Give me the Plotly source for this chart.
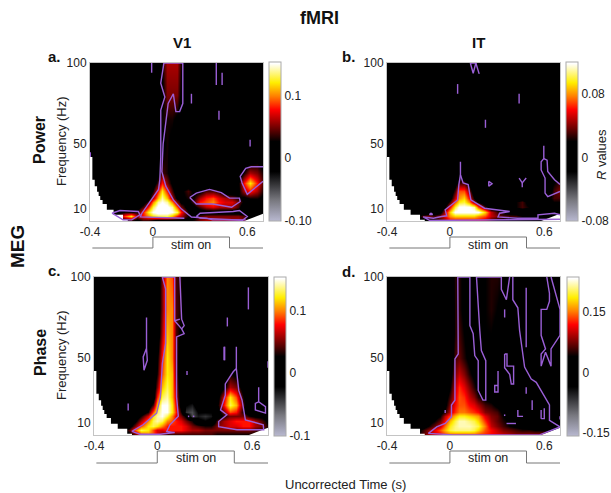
import numpy as np
import plotly.graph_objects as go

W, H = 611, 493
FONT = "Liberation Sans"
INK = "#222222"
PURPLE = "#9a5fd6"

TIMES = [-.40,-.32,-.26,-.22,-.18,-.14,-.10,-.06,-.03,0,.03,.06,.09,.12,.15,.18,.22,.26,.30,.34,.38,.42,.46,.50,.54,.58,.62,.66,.70]
FREQS = [100,80,65,50,40,32,26,21,17,14,11,8,5.5,3]

# R values x 100; rows run from 100 Hz down to 3 Hz
POWER_V1 = [
 [0,0,0,0,0,0,0,0,0,0,0,3,6,6,6,3,1,0,0,0,0,0,0,0,0,0,0,0,0],
 [0,0,0,0,0,0,0,0,0,0,0,2,5,5,5,2,0,0,0,0,0,0,0,0,0,0,0,0,0],
 [0,0,0,0,0,0,0,0,0,0,0,3,3,3,2,1,0,0,0,0,0,0,0,0,0,0,0,0,0],
 [0,0,0,0,0,0,0,0,0,0,1,2,3,2,1,0,0,0,0,0,0,0,0,0,0,0,0,0,0],
 [0,0,0,0,0,0,0,0,0,0,2,3,3,1,0,0,0,0,0,0,0,0,0,0,0,0,1,2,1],
 [0,0,0,0,0,0,0,0,0,0,2,4,3,1,0,0,0,0,0,0,0,0,0,0,0,3,6,5,3],
 [0,0,0,0,0,0,0,0,0,1,4,8,5,2,0,0,0,0,0,0,0,0,0,0,2,8,12,8,4],
 [0,0,0,0,0,0,0,0,0,3,8,12,8,4,0,2,4,2,2,4,4,3,0,0,2,6,8,6,3],
 [0,0,0,0,0,0,0,0,1,6,11,14,11,6,2,2,3,3,6,8,9,7,6,5,3,2,3,3,2],
 [0,0,0,0,0,0,0,1,4,10,14,15,14,10,5,2,2,4,8,9,10,8,7,7,5,2,0,0,0],
 [0,0,0,0,0,0,1,4,8,13,15.5,16,15.5,14,9,5,1,2,4,6,7,6,6,6,4,0,0,0,0],
 [0,0,0,1,3,3,3,8,12,15,16,16,16,15,13,8,3,0,1,1,1,1,1,1,1,0,0,0,0],
 [0,0,0,4,9,12,6,8,10,12,13,13,13,11,8,6,3,2,4,5,5,5,5,5,5,4,1,0,0],
 [0,0,0,1,3,4,2,4,4,3,2,2,2,2,2,2,2,3,5,6,6,6,6,6,6,5,0,0,0],
]
POWER_IT = [
 [0,0,0,0,0,0,0,0,0,0,0,0,0,1,2,1,0,0,0,0,0,0,0,0,0,0,0,0,0],
 [0,0,0,0,0,0,0,0,0,0,0,0,0,0,0,0,0,0,0,0,0,0,0,0,0,0,0,0,0],
 [0,0,0,0,0,0,0,0,0,0,0,0,0,0,0,0,0,0,0,0,0,0,0,0,0,0,0,0,0],
 [0,0,0,0,0,0,0,0,0,0,0,0,0,0,0,0,0,0,0,0,0,0,0,0,0,0,0,0,0],
 [0,0,0,0,0,0,0,0,0,0,0,0,0,0,0,0,0,0,0,0,0,0,0,0,0,0,0,0,0],
 [0,0,0,0,0,0,0,0,0,0,1,1,0,0,0,0,0,0,0,0,0,0,0,0,0,0,0,0,0],
 [0,0,0,0,0,0,0,0,0,0,1,3,3,1,0,0,0,0,0,0,0,0,0,0,0,0,1,2,3],
 [0,0,0,0,0,0,0,0,0,0,3,7,7,4,0,0,0,0,0,0,0,0,0,0,0,0,0,3,4],
 [0,0,0,0,0,0,0,0,0,1,5,8,9,6,2,0,0,0,0,0,0,0,1,0,0,0,1,3,3],
 [0,0,0,0,0,0,0,0,0,3,7,9.5,10,8,4,2,0,0,0,0,0,2,3,1,0,0,1,2,2],
 [0,0,0,0,0,0,0,0,2,6,10,12,12,12,11,7,3,0,0,0,0,2,3,2,1,0,0,0,0],
 [0,0,0,0,0,0,0,1,5,9,12,12,12,12,12,12,9,5,3,2,1,0,0,0,0,0,0,0,0],
 [0,0,0,0,3,4,3,4,6,8,9,9,9,9,9,8,7,5,4,3,3,3,2,0,0,0,0,0,0],
 [0,0,0,0,1,2,2,3,4,6,6,6,6,6,6,6,5,3,2,2,1,0,0,0,0,0,0,0,0],
]
PHASE_V1 = [
 [0,0,0,0,0,0,0,0,0,0,5,10,9,4,3,1,0,0,0,0,0,0,0,0,0,0,0,0,0],
 [0,0,0,0,0,0,0,0,0,0,5,10,10,4,3,1,0,0,0,0,0,0,0,0,0,0,0,0,0],
 [0,0,0,0,0,0,0,0,0,0,6,11,10,4,2,0,0,0,0,0,0,0,0,0,0,0,0,0,0],
 [0,0,0,0,0,0,0,0,0,2,8,12,10,4,1,0,0,0,0,0,0,0,0,0,0,0,0,0,0],
 [0,0,0,0,0,0,0,0,0,3,9,12,11,4,1,0,0,0,0,0,0,0,3,2,0,0,0,0,0],
 [0,0,0,0,0,0,0,0,0,5,11,13,11,5,1,0,0,0,0,0,0,2,6,5,1,0,0,0,0],
 [0,0,0,0,0,0,0,0,0,8,13,14,11,6,1,-1,0,0,0,0,1,7,12,9,3,0,0,0,0],
 [0,0,0,0,0,0,0,0,4,11,15,15,12,7,1,-2,-3,0,0,0,2,8,13,11,4,0,0,0,0],
 [0,0,0,0,0,0,0,3,9,13,15,15,12,8,3,-4,-5,-2,-2,-2,1,5,9,8,3,1,0,0,0],
 [0,0,0,0,0,0,3,7,12,14,15,13,10,7,5,2,-5,-3,-4,-3,1,3,5,5,5,3,2,2,0],
 [0,0,0,0,0,2,6,10,13,14,13,10,9,8,7,5,3,-1,-2,-1,4,6,7,8,8,8,6,4,2],
 [0,0,0,0,1,5,9,12,13,12,10,8,8,8,8,7,5,4,3,3,5,6,7,7,8,8,6,5,3],
 [0,0,0,1,4,9,13,12,9,7,7,8,8,8,8,7,6,6,5,5,5,5,5,5,5,5,4,3,2],
 [0,0,0,0,2,5,9,10,9,7,5,4,4,4,4,4,4,4,4,4,3,3,3,3,3,3,3,3,2],
]
PHASE_IT = [
 [0,0,0,0,0,0,0,0,0,1,5,5,3,2,2,3,4,5,5,4,2,1,0,0,0,0,0,0,0],
 [0,0,0,0,0,0,0,0,0,0,5,5,3,2,2,3,4,5,4,3,1,0,0,0,0,0,0,0,0],
 [0,0,0,0,0,0,0,0,0,0,5,6,4,2,2,3,4,4,3,2,0,0,0,0,0,0,0,0,0],
 [0,0,0,0,0,0,0,0,0,1,6,7,5,3,2,3,3,3,2,1,0,0,0,0,0,0,0,0,0],
 [0,0,0,0,0,0,0,0,0,2,8,10,8,5,3,2,2,2,1,0,0,0,0,0,0,0,0,0,0],
 [0,0,0,0,0,0,0,0,0,4,10,13,11,8,5,3,2,1,0,0,0,0,0,0,0,0,0,0,0],
 [0,0,0,0,0,0,0,0,2,6,11,14,13,10,8,5,3,2,1,0,0,0,0,0,0,0,0,0,0],
 [0,0,0,0,0,0,0,0,3,8,12,14,14,12,11,9,6,5,3,2,1,0,0,0,0,0,0,0,0],
 [0,0,0,0,0,0,0,2,5,10,13,15,15,14,13,12,8,7,6,3,2,1,0,0,0,0,0,0,0],
 [0,0,0,0,0,0,2,4,10,14,17,19,19,18,17,16,11,8,7,4,3,2,1,0,0,0,0,0,0],
 [0,0,0,0,0,2,4,7,12,17,20,22,22,21,20,18,13,9,7,5,3,2,1,0,0,0,0,0,0],
 [0,0,0,0,1,4,7,10,15,19,21,22,22,22,21,20,15,10,8,6,4,3,2,1,0,0,0,0,0],
 [0,0,0,1,5,8,11,14,17,20,21,21,21,21,20,18,14,12,10,8,7,6,5,5,4,4,4,3,2],
 [0,0,0,2,6,9,11,12,14,15,15,15,15,15,15,14,13,12,11,10,9,8,8,8,8,8,8,6,5],
]

COLOR_STOPS = [[0,"#b8b8d0"],[.13,"#78787f"],[.31,"#000000"],[.5,"#000000"],[.565,"#550000"],
               [.70,"#ff0000"],[.785,"#ff8000"],[.87,"#ffee00"],[.99,"#ffffff"],[1,"#ffffff"]]

CONE_LEFT_T = [-.41,-.385,-.37,-.355,-.345,-.335,-.32,-.293,-.25,-.19,-.16]
CONE_LEFT_F = [42,28,24,20.6,18,15.5,13,9.4,6.3,3.2,2.5]
CONE_RIGHT_T = [.58,.70,.72,.72]
CONE_RIGHT_F = [2.5,7,7,2.5]

CONTOURS_A = [
 [(.07,100),(.19,100),(.19,75),(.17,70),(.146,70),(.13,81),(.097,75),(.065,50),(.057,33),(.082,24),(.13,15.5),(.18,10),(.245,5),(.34,4.3),(.38,3.2),(.59,3.2)],
 [(.07,100),(.065,96),(.05,87.5),(.076,79),(.05,71),(.05,42),(.044,28),(.036,22),(-.03,12.5),(-.07,7.3),(-.08,5),(.2,4.2)],
 [(.276,5.3),(.3,7.3),(.51,8.4),(.55,9),(.6,5.3),(.57,3),(.3,4.3),(.276,5.3)],
 [(.234,17),(.276,19.7),(.36,22),(.435,20),(.487,16.6),(.55,16.6),(.555,14.5),(.5,11),(.38,13),(.276,13),(.234,17)],
 [(.7,36),(.625,36),(.59,35),(.555,30),(.567,26),(.6,19),(.7,27)],
 [(-.26,7.3),(-.21,9),(-.093,8.4),(-.082,6.3),(-.135,3.2),(-.19,3.2),(-.26,7.3)],
 [(-.008,100),(-.008,94)],[(.403,100),(.403,86.5)],[(.44,94),(.44,86.5)],[(.245,81),(.245,75)],
 [(.42,70.5),(.42,65)],[(.618,52.6),(.618,48.5)],[(-.398,45),(-.398,42)],
]
CONTOURS_B = [
 [(.067,39),(.067,31),(.084,26),(.116,25),(.133,15.5),(.22,10.4),(.38,8.4),(.316,7.3),(.306,5),(.43,4.2),(.56,4.2),(.56,6.3),(.665,7.3),(.70,6.3)],
 [(.067,31),(.057,25),(.049,15.5),(-.03,9.4),(-.02,5.7),(-.053,5.3),(-.105,4.2),(-.17,5),(-.127,2.8),(.70,3.6)],
 [(.597,49),(.597,41),(.58,39),(.58,34),(.605,29),(.605,19.7),(.622,17.6),(.70,20.7)],
 [(.597,41),(.618,40),(.622,33),(.665,28),(.70,25)],
 [(.247,27),(.268,25.5),(.247,24),(.247,27)],
 [(.44,29),(.46,26),(.485,29)],[(.46,26),(.46,23.4)],
 [(.13,100),(.165,100),(.148,93.7),(.13,100)],[(.165,100),(.186,93.3)],
 [(.049,87),(.049,81)],[(.44,81),(.44,75)],[(.226,65),(.226,60)],
 [(-.12,7.5),(-.11,6.5),(-.13,6.5),(-.12,7.5)],
]
CONTOURS_C = [
 [(.032,100),(.053,92.6),(.053,59),(.032,46.6),(.02,26),(-.004,16),(-.09,8.8),(-.16,4.7),(-.11,3),(.017,3),(.11,4),(.06,4.7),(.08,8.8),(.133,14),(.122,26),(.122,63),(.17,65),(.154,68),(.11,73),(.11,100),(.032,100)],
 [(.143,100),(.154,74),(.17,70),(.154,68)],[(.11,73),(.143,74)],
 [(-.068,75),(-.068,56),(-.089,50.7),(-.084,42.5),(-.063,48.6),(-.068,56)],
 [(-.184,22),(-.184,17.6)],[(.188,42),(.188,39.5)],
 [(.5,57),(.5,43.5),(.48,41.5),(.43,34),(.43,27),(.40,18),(.44,15),(.388,10.8),(.388,7.7),(.504,5.7),(.673,5.7),(.67,8.8),(.557,11.8),(.536,24),(.515,30),(.504,41.5),(.5,43.5)],
 [(.426,57),(.426,48.6)],[(.443,75),(.443,69.5)],[(.576,93.6),(.576,80)],[(.422,57),(.422,48.6)],
 [(.641,32),(.641,23),(.62,22),(.62,18),(.684,16),(.684,20),(.641,23)],
 [(.198,14.5),(.198,13.5)],[(.23,14.5),(.23,13.5)],[(.7,48),(.7,44)],
]
CONTOURS_D = [
 [(.127,100),(.05,100),(.053,52.5),(.032,49.5),(.032,24),(.01,21),(.01,13.7),(-.03,9.6),(-.084,7.5),(-.137,3.5),(.02,2.6),(.57,2.6),(.70,7.5)],
 [(.127,100),(.127,70),(.148,65),(.158,51.5),(.18,48.4),(.18,30),(.21,24),(.228,24),(.228,48.4),(.2,54.6),(.19,67),(.169,100),(.327,100),(.327,92.4),(.359,86),(.38,100)],
 [(.40,100),(.40,86),(.432,81),(.443,67),(.475,44.4),(.517,37),(.549,35),(.633,21),(.633,11.6),(.70,7.5)],
 [(.616,100),(.633,90),(.633,85),(.616,80),(.58,80),(.58,64),(.608,55.6),(.58,52.5),(.58,45),(.608,53.6),(.643,45),(.643,55.6),(.70,64),(.70,80),(.643,100)],
 [(.348,52.5),(.348,44),(.38,40),(.39,34),(.405,34),(.405,45),(.363,45),(.363,52.5),(.348,52.5)],
 [(.306,42),(.306,29),(.285,29),(.285,33),(.306,33)],
 [(.485,93.4),(.485,56.6)],[(.348,80),(.348,75)],[(.485,32),(.485,28)],[(.523,24),(.523,18)],
 [(.432,18),(.432,14),(.465,14)],[(.58,18),(.58,12.6)],[(.60,19),(.60,12.6),(.58,12.6)],
 [(-.03,18),(-.03,16)],[(.348,15.2),(.348,14.2)],[(.36,9.6),(.42,9.6)],[(.7,14),(.7,12)],
]

PANELS = [
 dict(z=POWER_V1, c=CONTOURS_A, box=(90,263,63,221), cb=(269,62), zr=(-.10,.153), tv=[-.10,0,.1], tt=["-0.10","0","0.1"]),
 dict(z=POWER_IT, c=CONTOURS_B, box=(387,560,63,221), cb=(566,62), zr=(-.08,.12), tv=[-.08,0,.08], tt=["-0.08","0","0.08"]),
 dict(z=PHASE_V1, c=CONTOURS_C, box=(94,268,277,435), cb=(274,277), zr=(-.10,.153), tv=[-.10,0,.1], tt=["-0.1","0","0.1"]),
 dict(z=PHASE_IT, c=CONTOURS_D, box=(387,560,277,435), cb=(567,277), zr=(-.157,.2375), tv=[-.15,0,.15], tt=["-0.15","0","0.15"]),
]
STIM_START, STIM_ON, STIM_OFF, STIM_END = -.385, 0, .487, .70
STIM_Y = [(248,237,245),(248,237,245),(463,451,458),(463,451,458)]

def px(x): return x / W
def py(y): return 1 - y / H

fig = go.Figure()
shapes, notes = [], []
freq_up = FREQS[::-1]
for i, p in enumerate(PANELS):
    n = "" if i == 0 else str(i + 1)
    xa, ya = "x" + n, "y" + n
    x0, x1, y0, y1 = p["box"]
    fig.update_layout({
        "xaxis" + n: dict(domain=[px(x0), px(x1)], range=[-.4, .7], anchor=ya, tickvals=[-.4, 0, .6],
                          ticktext=["-0.4", "0", "0.6"], ticks="", showgrid=False, zeroline=False,
                          showline=True, mirror=True, linecolor="#c4c4c4", linewidth=1,
                          tickfont=dict(family=FONT, size=12, color=INK)),
        "yaxis" + n: dict(domain=[py(y1), py(y0)], range=[2.5, 100], anchor=xa, tickvals=[10, 50, 100],
                          ticks="", showgrid=False, zeroline=False, showline=True, mirror=True,
                          linecolor="#c4c4c4", linewidth=1, tickfont=dict(family=FONT, size=12, color=INK)),
    })
    z = (np.array(p["z"], dtype=float) / 100)[::-1]
    cbx, cby = p["cb"]
    fig.add_trace(go.Heatmap(
        x=TIMES, y=freq_up, z=z, xaxis=xa, yaxis=ya, zsmooth="best", zmin=p["zr"][0], zmax=p["zr"][1],
        colorscale=COLOR_STOPS, hoverinfo="skip",
        colorbar=dict(x=px(cbx), xanchor="left", xpad=0, ypad=0, y=py(cby), yanchor="top", lenmode="pixels",
                      len=159, thickness=12, thicknessmode="pixels", outlinecolor="#aaaaaa", outlinewidth=1,
                      tickmode="array", tickvals=p["tv"], ticktext=p["tt"], ticks="",
                      tickfont=dict(family=FONT, size=12, color=INK)),
    ))
    fig.add_trace(go.Scatter(x=[-.41] + CONE_LEFT_T + [-.41], y=[CONE_LEFT_F[0]] + CONE_LEFT_F + [2.0],
                             mode="lines", line=dict(shape="hv", width=0, color="white"),
                             fill="toself", fillcolor="white", xaxis=xa, yaxis=ya, showlegend=False, hoverinfo="skip"))
    fig.add_trace(go.Scatter(x=CONE_RIGHT_T, y=CONE_RIGHT_F, mode="lines", line=dict(width=0, color="white"),
                             fill="toself", fillcolor="white", xaxis=xa, yaxis=ya, showlegend=False, hoverinfo="skip"))
    for poly in p["c"]:
        fig.add_trace(go.Scatter(x=[a for a, _ in poly], y=[b for _, b in poly], mode="lines",
                                 line=dict(color=PURPLE, width=1.4), xaxis=xa, yaxis=ya,
                                 showlegend=False, hoverinfo="skip"))
    base, top, lab = STIM_Y[i]
    for xs, ys in [((STIM_START, STIM_ON), (base, base)), ((STIM_ON, STIM_ON), (base, top)),
                   ((STIM_ON, STIM_OFF), (top, top)), ((STIM_OFF, STIM_OFF), (top, base)),
                   ((STIM_OFF, STIM_END), (base, base))]:
        shapes.append(dict(type="line", xref=xa, yref="paper", x0=xs[0], x1=xs[1], y0=py(ys[0]), y1=py(ys[1]),
                           line=dict(color="#777777", width=1)))
    notes.append(dict(text="stim on", xref=xa, yref="paper", x=(STIM_ON + STIM_OFF) / 2, y=py(lab),
                      showarrow=False, font=dict(family=FONT, size=12.5, color=INK), xanchor="center", yanchor="middle"))

def label(text, x, y, size, bold=False, angle=0):
    notes.append(dict(text=f"<b>{text}</b>" if bold else text, x=px(x), y=py(y), xref="paper", yref="paper",
                      showarrow=False, textangle=angle, xanchor="center", yanchor="middle",
                      font=dict(family=FONT, size=size, color="#111111" if bold else INK)))

label("fMRI", 319, 18, 18, True)
label("V1", 182, 43, 15, True)
label("IT", 478, 43, 15, True)
label("a.", 54, 57, 15, True)
label("b.", 348, 57, 15, True)
label("c.", 54, 270, 15, True)
label("d.", 348, 271, 15, True)
label("MEG", 17, 247, 19, True, -90)
label("Power", 40, 140, 16, True, -90)
label("Phase", 40, 353, 16, True, -90)
label("Frequency (Hz)", 61, 141, 13, False, -90)
label("Frequency (Hz)", 61, 355, 13, False, -90)
label("<i>R</i> values", 601, 155, 13, False, -90)
label("Uncorrected Time (s)", 345, 484, 13)

fig.update_layout(width=W, height=H, margin=dict(l=0, r=0, t=0, b=0, autoexpand=False), paper_bgcolor="white", plot_bgcolor="black",
                  showlegend=False, shapes=shapes, annotations=notes)
fig.write_html("out.html", config=dict(displayModeBar=False),
               post_script="document.body.style.margin='0';document.body.style.overflow='hidden';")
